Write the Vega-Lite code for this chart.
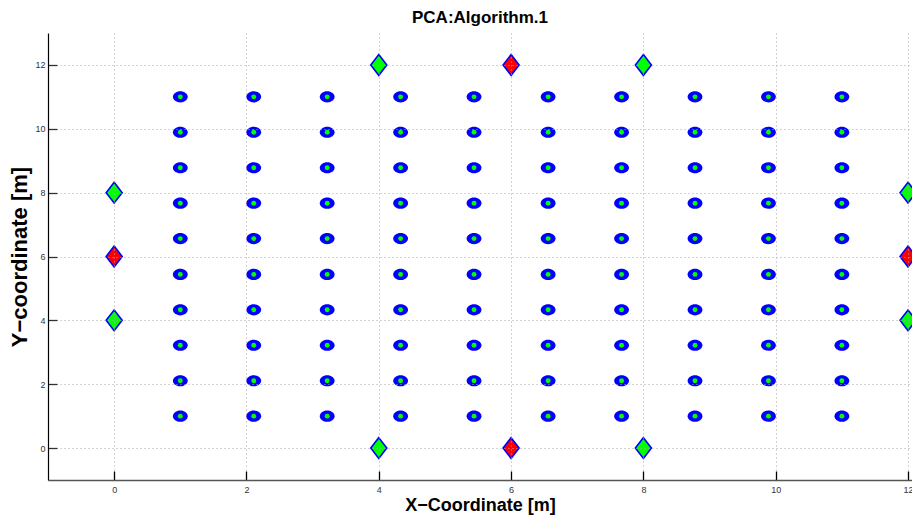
{
  "$schema": "https://vega.github.io/schema/vega-lite/v6.json",
  "width": 864,
  "height": 447,
  "autosize": {"type": "none"},
  "padding": {"left": 48, "top": 33, "right": 0, "bottom": 38},
  "background": "white",
  "config": {
    "view": {"stroke": null},
    "font": "Liberation Sans"
  },
  "title": {
    "text": "PCA:Algorithm.1",
    "font": "Liberation Sans",
    "fontSize": 17,
    "fontWeight": "bold",
    "color": "#000000",
    "offset": 6
  },
  "datasets": {
    "estimates": [
      {"x": 1, "y": 1}, {"x": 1, "y": 2.11}, {"x": 1, "y": 3.22}, {"x": 1, "y": 4.33}, {"x": 1, "y": 5.44}, {"x": 1, "y": 6.56}, {"x": 1, "y": 7.67}, {"x": 1, "y": 8.78}, {"x": 1, "y": 9.89}, {"x": 1, "y": 11},
      {"x": 2.11, "y": 1}, {"x": 2.11, "y": 2.11}, {"x": 2.11, "y": 3.22}, {"x": 2.11, "y": 4.33}, {"x": 2.11, "y": 5.44}, {"x": 2.11, "y": 6.56}, {"x": 2.11, "y": 7.67}, {"x": 2.11, "y": 8.78}, {"x": 2.11, "y": 9.89}, {"x": 2.11, "y": 11},
      {"x": 3.22, "y": 1}, {"x": 3.22, "y": 2.11}, {"x": 3.22, "y": 3.22}, {"x": 3.22, "y": 4.33}, {"x": 3.22, "y": 5.44}, {"x": 3.22, "y": 6.56}, {"x": 3.22, "y": 7.67}, {"x": 3.22, "y": 8.78}, {"x": 3.22, "y": 9.89}, {"x": 3.22, "y": 11},
      {"x": 4.33, "y": 1}, {"x": 4.33, "y": 2.11}, {"x": 4.33, "y": 3.22}, {"x": 4.33, "y": 4.33}, {"x": 4.33, "y": 5.44}, {"x": 4.33, "y": 6.56}, {"x": 4.33, "y": 7.67}, {"x": 4.33, "y": 8.78}, {"x": 4.33, "y": 9.89}, {"x": 4.33, "y": 11},
      {"x": 5.44, "y": 1}, {"x": 5.44, "y": 2.11}, {"x": 5.44, "y": 3.22}, {"x": 5.44, "y": 4.33}, {"x": 5.44, "y": 5.44}, {"x": 5.44, "y": 6.56}, {"x": 5.44, "y": 7.67}, {"x": 5.44, "y": 8.78}, {"x": 5.44, "y": 9.89}, {"x": 5.44, "y": 11},
      {"x": 6.56, "y": 1}, {"x": 6.56, "y": 2.11}, {"x": 6.56, "y": 3.22}, {"x": 6.56, "y": 4.33}, {"x": 6.56, "y": 5.44}, {"x": 6.56, "y": 6.56}, {"x": 6.56, "y": 7.67}, {"x": 6.56, "y": 8.78}, {"x": 6.56, "y": 9.89}, {"x": 6.56, "y": 11},
      {"x": 7.67, "y": 1}, {"x": 7.67, "y": 2.11}, {"x": 7.67, "y": 3.22}, {"x": 7.67, "y": 4.33}, {"x": 7.67, "y": 5.44}, {"x": 7.67, "y": 6.56}, {"x": 7.67, "y": 7.67}, {"x": 7.67, "y": 8.78}, {"x": 7.67, "y": 9.89}, {"x": 7.67, "y": 11},
      {"x": 8.78, "y": 1}, {"x": 8.78, "y": 2.11}, {"x": 8.78, "y": 3.22}, {"x": 8.78, "y": 4.33}, {"x": 8.78, "y": 5.44}, {"x": 8.78, "y": 6.56}, {"x": 8.78, "y": 7.67}, {"x": 8.78, "y": 8.78}, {"x": 8.78, "y": 9.89}, {"x": 8.78, "y": 11},
      {"x": 9.89, "y": 1}, {"x": 9.89, "y": 2.11}, {"x": 9.89, "y": 3.22}, {"x": 9.89, "y": 4.33}, {"x": 9.89, "y": 5.44}, {"x": 9.89, "y": 6.56}, {"x": 9.89, "y": 7.67}, {"x": 9.89, "y": 8.78}, {"x": 9.89, "y": 9.89}, {"x": 9.89, "y": 11},
      {"x": 11, "y": 1}, {"x": 11, "y": 2.11}, {"x": 11, "y": 3.22}, {"x": 11, "y": 4.33}, {"x": 11, "y": 5.44}, {"x": 11, "y": 6.56}, {"x": 11, "y": 7.67}, {"x": 11, "y": 8.78}, {"x": 11, "y": 9.89}, {"x": 11, "y": 11}
    ],
    "beacons": [
      {"x": 4, "y": 12, "type": "anchor"},
      {"x": 6, "y": 12, "type": "reference"},
      {"x": 8, "y": 12, "type": "anchor"},
      {"x": 0, "y": 8, "type": "anchor"},
      {"x": 0, "y": 6, "type": "reference"},
      {"x": 0, "y": 4, "type": "anchor"},
      {"x": 12, "y": 8, "type": "anchor"},
      {"x": 12, "y": 6, "type": "reference"},
      {"x": 12, "y": 4, "type": "anchor"},
      {"x": 4, "y": 0, "type": "anchor"},
      {"x": 6, "y": 0, "type": "reference"},
      {"x": 8, "y": 0, "type": "anchor"}
    ]
  },
  "encoding": {
    "x": {
      "field": "x",
      "type": "quantitative",
      "scale": {"domain": [-1, 12.06], "nice": false, "zero": false},
      "axis": {
        "values": [0, 2, 4, 6, 8, 10, 12],
        "title": "X−Coordinate [m]",
        "titleFont": "Liberation Sans",
        "titleFontSize": 18,
        "titleFontWeight": "bold",
        "titleColor": "#000000",
        "titlePadding": 2,
        "labelFont": "Liberation Sans",
        "labelFontSize": 9,
        "labelColor": "#333333",
        "labelPadding": 14,
        "labelFlush": false,
        "ticks": true,
        "tickSize": {"expr": "-9"},
        "tickWidth": 1.3,
        "tickColor": "#000000",
        "tickOpacity": 1,
        "zindex": 1,
        "domainColor": "#555555",
        "domainWidth": 1.6,
        "grid": true,
        "gridColor": "#a8a8a8",
        "gridDash": [1, 3],
        "gridWidth": 1
      }
    },
    "y": {
      "field": "y",
      "type": "quantitative",
      "scale": {"domain": [-1, 13], "nice": false, "zero": false},
      "axis": {
        "values": [0, 2, 4, 6, 8, 10, 12],
        "title": "Y−coordinate [m]",
        "titleFont": "Liberation Sans",
        "titleFontSize": 22,
        "titleFontWeight": "bold",
        "titleColor": "#000000",
        "titlePadding": 3,
        "labelFont": "Liberation Sans",
        "labelFontSize": 9,
        "labelColor": "#333333",
        "labelPadding": 12,
        "ticks": true,
        "tickSize": {"expr": "-9"},
        "tickWidth": 1.3,
        "tickColor": "#333333",
        "tickOpacity": 1,
        "zindex": 1,
        "domainColor": "#000000",
        "domainWidth": 1.2,
        "grid": true,
        "gridColor": "#a8a8a8",
        "gridDash": [1, 3],
        "gridWidth": 1
      }
    }
  },
  "layer": [
    {
      "data": {"name": "estimates"},
      "mark": {
        "type": "point",
        "shape": "M-1,0A1,0.75 0 1,0 1,0A1,0.75 0 1,0 -1,0Z",
        "filled": true,
        "size": 220,
        "color": "#0000ff",
        "opacity": 1
      }
    },
    {
      "data": {"name": "estimates"},
      "mark": {
        "type": "point",
        "shape": "circle",
        "filled": true,
        "size": 24,
        "color": "#00ff00",
        "opacity": 1
      }
    },
    {
      "data": {"name": "beacons"},
      "mark": {
        "type": "point",
        "shape": "M0,-1.3L1,0L0,1.3L-1,0Z",
        "filled": true,
        "size": 256,
        "stroke": "#0000ff",
        "strokeWidth": 1.6,
        "opacity": 1
      },
      "encoding": {
        "fill": {
          "field": "type",
          "type": "nominal",
          "scale": {"domain": ["anchor", "reference"], "range": ["#00ff00", "#ff0000"]},
          "legend": null
        }
      }
    }
  ]
}
